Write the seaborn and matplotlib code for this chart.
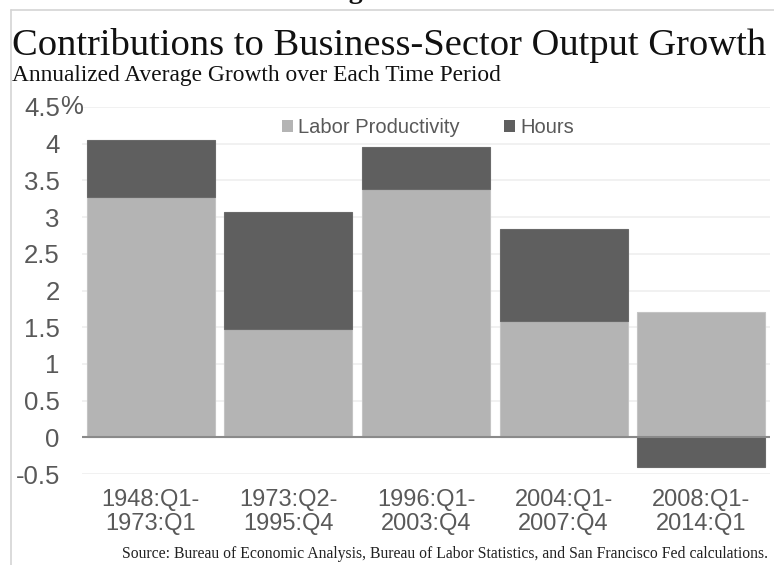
import matplotlib
matplotlib.use("Agg")
import matplotlib.pyplot as plt
import seaborn as sns
import pandas as pd
import numpy as np
from matplotlib.lines import Line2D
from matplotlib.patches import Patch

periods = ["1948:Q1-\n1973:Q1", "1973:Q2-\n1995:Q4", "1996:Q1-\n2003:Q4",
           "2004:Q1-\n2007:Q4", "2008:Q1-\n2014:Q1"]
labor_productivity = [3.27, 1.48, 3.38, 1.58, 1.71]
hours = [0.78, 1.59, 0.58, 1.26, -0.41]
yticks = [-0.5, 0, 0.5, 1, 1.5, 2, 2.5, 3, 3.5, 4, 4.5]
ytick_labels = ["-0.5", "0", "0.5", "1", "1.5", "2", "2.5", "3", "3.5", "4", "4.5"]

LIGHT = "#b4b4b4"
DARK = "#5f5f5f"
TXT = "#595959"

df = pd.DataFrame({"period": periods, "lp": labor_productivity, "hours": hours})
df["base"] = np.where(df["hours"] > 0, df["lp"], 0.0)

sns.set_theme(style="white")
plt.rcParams["font.family"] = ["Liberation Sans", "DejaVu Sans"]

W, H = 774, 565
fig = plt.figure(figsize=(W / 100, H / 100), dpi=100)
ax = fig.add_axes([82 / W, 1 - 474 / H, (770 - 82) / W, (474 - 107) / H])

sns.barplot(data=df, x="period", y="lp", color=LIGHT, width=0.93, ax=ax,
            saturation=1, edgecolor="#c4c4c4", linewidth=0.8, zorder=2)
sns.barplot(data=df, x="period", y="hours", bottom=df["base"].values, color=DARK,
            width=0.93, ax=ax, saturation=1, edgecolor="#6a6a6a", linewidth=0.8,
            zorder=2)

ax.set_ylim(-0.5, 4.5)
ax.set_xlim(-0.5, 4.5)
ax.set_yticks(yticks)
ax.set_yticklabels(ytick_labels)
ax.yaxis.grid(True, color="#efefef", linewidth=1.2, zorder=0)
ax.set_axisbelow(True)
ax.axhline(0, color="#8a8a8a", linewidth=1.5, zorder=3)
for s in ax.spines.values():
    s.set_visible(False)
ax.tick_params(axis="y", length=0, labelsize=18.5, labelcolor=TXT, pad=16)
ax.tick_params(axis="x", length=0, labelsize=17, labelcolor=TXT, pad=11)
for lbl in ax.get_xticklabels():
    lbl.set_linespacing(1.08)
ax.set_xlabel("")
ax.set_ylabel("")

ax.annotate("%", xy=(0, 4.5), xycoords=("axes fraction", "data"),
            xytext=(-16, 0), textcoords="offset points", ha="left", va="center",
            fontsize=18.5, color=TXT)

handles = [Patch(facecolor=LIGHT, edgecolor="none", label="Labor Productivity"),
           Patch(facecolor=DARK, edgecolor="none", label="Hours")]
ax.legend(handles=handles, loc="center", bbox_to_anchor=(0.503, 0.943), ncol=2,
          frameon=False, fontsize=14.5, labelcolor=TXT, handlelength=0.55,
          handleheight=0.55, handletextpad=0.25, columnspacing=2.2)

serif = ["Liberation Serif", "DejaVu Serif"]
fig.text(12 / W, 1 - 55 / H, "Contributions to Business-Sector Output Growth",
         family=serif, fontsize=27.7, color="#111111", ha="left", va="baseline")
fig.text(12 / W, 1 - 81 / H, "Annualized Average Growth over Each Time Period",
         family=serif, fontsize=16.8, color="#111111", ha="left", va="baseline")
fig.text(768 / W, 1 - 558 / H,
         "Source: Bureau of Economic Analysis, Bureau of Labor Statistics, and San Francisco Fed calculations.",
         family=serif, fontsize=11.3, color="#222222", ha="right", va="baseline")
fig.text(324 / W, 1 + 2 / H, "Figure 1", family=serif, fontsize=20,
         fontweight="bold", color="#111111", ha="left", va="baseline")

fig.add_artist(Line2D([11 / W, 11 / W], [0, 1 - 10 / H], color="#d4d4d4",
                      linewidth=1.2, transform=fig.transFigure))
fig.add_artist(Line2D([11 / W, 1], [1 - 10 / H, 1 - 10 / H], color="#d4d4d4",
                      linewidth=1.2, transform=fig.transFigure))

fig.savefig("out.png", dpi=100)
